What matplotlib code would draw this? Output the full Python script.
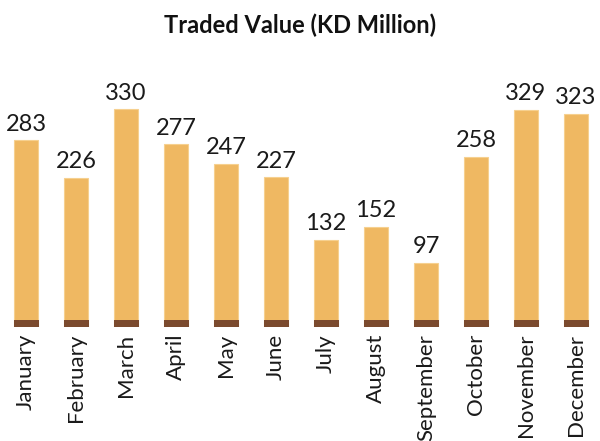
import matplotlib.pyplot as plt

months = ["January", "February", "March", "April", "May", "June", "July",
          "August", "September", "October", "November", "December"]
values = [283, 226, 330, 277, 247, 227, 132, 152, 97, 258, 329, 323]

plt.rcParams['font.family'] = ['Lato', 'DejaVu Sans']

fig = plt.figure(figsize=(6, 4.41), dpi=100)
ax = fig.add_axes([0, 114 / 441, 1, 268 / 441])

x = range(len(months))
ax.bar(x, values, width=0.48, color='#EFB862', edgecolor='#F6D08F', linewidth=0.8)
ax.bar(x, 10.5, width=0.5, color='#7B4A2E', linewidth=0)

for i, v in zip(x, values):
    ax.annotate(str(v), (i, v), xytext=(0, 4), textcoords='offset points',
                ha='center', va='bottom', fontsize=17, fontweight='normal',
                color='#1a1a1a')

ax.set_xlim(-0.52, 11.48)
ax.set_ylim(0, 406)
ax.set_xticks(list(x))
ax.set_xticklabels(months, rotation=90, fontsize=16, fontweight='normal', color='#1a1a1a')
ax.tick_params(axis='x', length=0, pad=5)
ax.set_yticks([])
for s in ax.spines.values():
    s.set_visible(False)

fig.text(0.5, 1 - 25 / 441, "Traded Value (KD Million)", ha='center', va='center',
         fontsize=17, fontweight='bold', color='#111111')

fig.savefig('out.png', dpi=100)
